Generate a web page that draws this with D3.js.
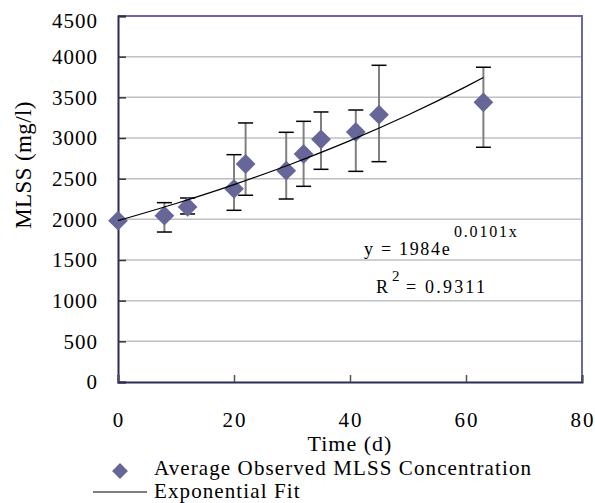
<!DOCTYPE html>
<html>
<head>
<meta charset="utf-8">
<script src="https://cdn.jsdelivr.net/npm/d3@7"></script>
<style>
  body { margin: 0; background: #fff; }
  text { font-family: 'Liberation Serif', 'Times New Roman', serif; fill: #000; }
</style>
</head>
<body>
<script>
const days = [0, 8, 12, 20, 22, 29, 32, 35, 41, 45, 63];
const mlss = [1983, 2045, 2152, 2375, 2680, 2598, 2803, 2984, 3074, 3287, 3439];
const errLow = [1983, 1844, 2066, 2111, 2296, 2250, 2406, 2615, 2590, 2709, 2886];
const errHigh = [1983, 2205, 2262, 2795, 3185, 3070, 3205, 3320, 3344, 3894, 3870];

// exponential fit line
const fitDays = [0, 10, 20, 30, 40, 50, 60, 63];
const fitMlss = [1984, 2195, 2427, 2684, 2968, 3283, 3632, 3743];

const xTicks = [0, 20, 40, 60, 80];
const yTicks = [0, 500, 1000, 1500, 2000, 2500, 3000, 3500, 4000, 4500];

const width = 595;
const height = 503;
const margin = { top: 16, right: 13, bottom: 121, left: 118 };
const innerW = width - margin.left - margin.right;
const innerH = height - margin.top - margin.bottom;

const svg = d3.select('body')
  .append('svg')
  .attr('width', width)
  .attr('height', height);

const g = svg.append('g')
  .attr('transform', `translate(${margin.left},${margin.top})`);

const x = d3.scaleLinear().domain([0, 80]).range([0, innerW]);
const y = d3.scaleLinear().domain([0, 4500]).range([innerH, 0]);

// gridlines
g.selectAll('.grid')
  .data(yTicks.slice(1))
  .enter()
  .append('line')
  .attr('x1', 0)
  .attr('x2', innerW)
  .attr('y1', d => y(d))
  .attr('y2', d => y(d))
  .attr('stroke', '#c0c0c0')
  .attr('stroke-width', 1.5);

// top + right frame
g.append('path')
  .attr('d', `M0,0H${innerW}V${innerH}`)
  .attr('fill', 'none')
  .attr('stroke', '#6a6aa3')
  .attr('stroke-width', 2);

// y axis
const yAxis = g.append('g')
  .call(d3.axisRight(y).tickValues(yTicks).tickSize(8).tickFormat(''));
yAxis.select('.domain').attr('stroke', '#2b2b55').attr('stroke-width', 2);
yAxis.selectAll('.tick line').attr('stroke', '#333').attr('stroke-width', 1.5);

g.selectAll('.ylab')
  .data(yTicks)
  .enter()
  .append('text')
  .attr('x', -20)
  .attr('y', d => y(d) + (d === 4500 ? 5 : 0))
  .attr('dy', '0.35em')
  .attr('text-anchor', 'end')
  .style('font-size', '21px')
  .style('letter-spacing', '1px')
  .text(d => d);

// x axis
const xAxis = g.append('g')
  .attr('transform', `translate(0,${innerH})`)
  .call(d3.axisTop(x).tickValues(xTicks).tickSize(7).tickFormat(''));
xAxis.select('.domain').attr('stroke', '#2b2b55').attr('stroke-width', 2);
xAxis.selectAll('.tick line').attr('stroke', '#555').attr('stroke-width', 1.5);

g.selectAll('.xlab')
  .data(xTicks)
  .enter()
  .append('text')
  .attr('x', d => x(d) + 1)
  .attr('y', innerH + 45)
  .attr('text-anchor', 'middle')
  .style('font-size', '21px')
  .style('letter-spacing', '2px')
  .text(d => d);

// axis titles
svg.append('text')
  .attr('x', margin.left + innerW / 2)
  .attr('y', 451)
  .attr('text-anchor', 'middle')
  .style('font-size', '22px')
  .style('letter-spacing', '1px')
  .text('Time (d)');

svg.append('text')
  .attr('transform', 'translate(31,165) rotate(-90)')
  .attr('text-anchor', 'middle')
  .style('font-size', '23px')
  .style('letter-spacing', '0.4px')
  .text('MLSS (mg/l)');

const points = days.map((d, i) => ({ day: d, v: mlss[i], lo: errLow[i], hi: errHigh[i] }));
const fit = fitDays.map((d, i) => [d, fitMlss[i]]);

// error bars
const eb = g.selectAll('.eb')
  .data(points.filter(p => p.hi > p.lo))
  .enter()
  .append('g');
eb.append('line')
  .attr('x1', d => x(d.day))
  .attr('x2', d => x(d.day))
  .attr('y1', d => y(d.lo))
  .attr('y2', d => y(d.hi))
  .attr('stroke', '#808080')
  .attr('stroke-width', 2);
['lo', 'hi'].forEach(k => {
  eb.append('line')
    .attr('x1', d => x(d.day) - 7.5)
    .attr('x2', d => x(d.day) + 7.5)
    .attr('y1', d => y(d[k]))
    .attr('y2', d => y(d[k]))
    .attr('stroke', '#000')
    .attr('stroke-width', 1.5);
});

// diamonds
const diamond = d3.symbol().type(d3.symbolDiamond2).size(250);
g.selectAll('.pt')
  .data(points)
  .enter()
  .append('path')
  .attr('d', diamond)
  .attr('transform', d => `translate(${x(d.day)},${y(d.v)})`)
  .attr('fill', '#666699');

// fit line
g.append('path')
  .datum(fit)
  .attr('fill', 'none')
  .attr('stroke', '#000')
  .attr('stroke-width', 1.2)
  .attr('d', d3.line().x(d => x(d[0])).y(d => y(d[1])).curve(d3.curveMonotoneX));

// equation
function label(tx, ty, size, spacing, str) {
  svg.append('text')
    .attr('x', tx)
    .attr('y', ty)
    .style('font-size', size + 'px')
    .style('letter-spacing', spacing + 'px')
    .text(str);
}
label(364, 255, 18, 1.7, 'y = 1984e');
label(454, 237, 16, 1.8, '0.0101x');
label(376, 293, 18, 1.5, 'R');
label(392, 281, 15, 1.5, '2');
label(406, 293, 18, 2.2, '= 0.9311');

// legend
svg.append('path')
  .attr('d', d3.symbol().type(d3.symbolDiamond2).size(160))
  .attr('transform', 'translate(120,471)')
  .attr('fill', '#666699');
svg.append('text')
  .attr('x', 154)
  .attr('y', 475)
  .style('font-size', '21px')
  .style('letter-spacing', '1.1px')
  .text('Average Observed MLSS Concentration');

svg.append('line')
  .attr('x1', 93)
  .attr('x2', 147)
  .attr('y1', 492)
  .attr('y2', 492)
  .attr('stroke', '#000')
  .attr('stroke-width', 1.2);
svg.append('text')
  .attr('x', 154)
  .attr('y', 498)
  .style('font-size', '21px')
  .style('letter-spacing', '1.1px')
  .text('Exponential Fit');
</script>
</body>
</html>
